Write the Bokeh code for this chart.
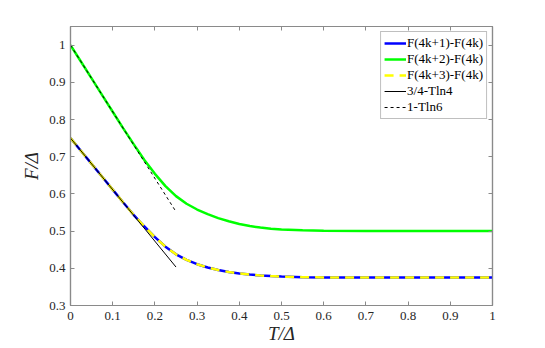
from bokeh.plotting import figure
from bokeh.models import Range1d, FixedTicker, LinearAxis, Legend, LegendItem
from bokeh.embed import file_html
from bokeh.resources import INLINE

# ---- data ----
T = [0.0, 0.025, 0.05, 0.075, 0.1, 0.125, 0.15, 0.175, 0.2, 0.225, 0.25, 0.275,
     0.3, 0.325, 0.35, 0.375, 0.4, 0.425, 0.45, 0.475, 0.5, 0.55, 0.6, 0.7, 0.8, 0.9, 1.0]
F41 = [0.75, 0.7153, 0.6807, 0.646, 0.6114, 0.5767, 0.5431, 0.5124, 0.4837, 0.4581, 0.4375, 0.4225,
       0.411, 0.4021, 0.3953, 0.3900, 0.3862, 0.3832, 0.3808, 0.379, 0.3777, 0.3762, 0.3755, 0.375, 0.375, 0.375, 0.375]
F42 = [1.0, 0.9552, 0.9104, 0.8656, 0.8208, 0.776, 0.733, 0.691, 0.654, 0.621, 0.594, 0.5735,
       0.558, 0.5455, 0.535, 0.5265, 0.519, 0.5135, 0.5095, 0.5065, 0.5045, 0.5025, 0.501, 0.5, 0.5, 0.5, 0.5]
F43 = F41
T_lin = [0.0, 0.25]
lin4 = [0.75, 0.4034]   # 3/4 - T ln4
lin6 = [1.0, 0.5521]    # 1 - T ln6

x_ticks = [0, 0.1, 0.2, 0.3, 0.4, 0.5, 0.6, 0.7, 0.8, 0.9, 1]
x_tick_labels = ["0", "0.1", "0.2", "0.3", "0.4", "0.5", "0.6", "0.7", "0.8", "0.9", "1"]
y_ticks = [0.3, 0.4, 0.5, 0.6, 0.7, 0.8, 0.9, 1]
y_tick_labels = ["0.3", "0.4", "0.5", "0.6", "0.7", "0.8", "0.9", "1"]

labels = ["F(4k+1)-F(4k)", "F(4k+2)-F(4k)", "F(4k+3)-F(4k)", "3/4-Tln4", "1-Tln6"]

FONT = "serif"
AX = "#8a8a8a"
TXT = "#262626"

p = figure(width=537, height=346, output_backend="svg", toolbar_location=None,
           x_range=Range1d(0, 1), y_range=Range1d(0.3, 1.05),
           min_border_left=70, min_border_right=45, min_border_top=26, min_border_bottom=41)
p.background_fill_color = "white"
p.border_fill_color = "white"
p.outline_line_color = AX
p.outline_line_width = 1.2
p.xgrid.visible = False
p.ygrid.visible = False

r1 = p.line(T, F41, color="#0000ff", line_width=2.5)
r2 = p.line(T, F42, color="#00ff00", line_width=2.5)
r3 = p.line(T, F43, color="#ffff00", line_width=2.5, line_dash="9 6")
r4 = p.line(T_lin, lin4, color="black", line_width=1)
r5 = p.line(T_lin, lin6, color="black", line_width=1, line_dash="3 3")

def style_axis(ax, ticks, overrides):
    ax.ticker = FixedTicker(ticks=ticks)
    ax.axis_line_color = AX
    ax.axis_line_width = 1.2
    ax.major_tick_line_color = AX
    ax.major_tick_in = 4
    ax.major_tick_out = 0
    ax.minor_tick_line_color = None
    ax.major_label_text_font = FONT
    ax.major_label_text_color = TXT
    ax.major_label_text_font_size = "13px"
    ax.major_label_overrides = overrides

xa = p.xaxis[0]
ya = p.yaxis[0]
style_axis(xa, x_ticks, dict(zip(x_ticks, x_tick_labels)))
style_axis(ya, y_ticks, dict(zip(y_ticks, y_tick_labels)))
xa.major_label_standoff = 6
ya.major_label_standoff = 5
xa.axis_label = "T/Δ"
ya.axis_label = "F/Δ"
for ax in (xa, ya):
    ax.axis_label_text_font = FONT
    ax.axis_label_text_font_size = "19px"
    ax.axis_label_text_font_style = "italic"
    ax.axis_label_text_color = TXT
xa.axis_label_standoff = 0
ya.axis_label_standoff = 4

top = LinearAxis()
right = LinearAxis()
style_axis(top, x_ticks, {t: "" for t in x_ticks})
style_axis(right, y_ticks, {t: "" for t in y_ticks})
top.major_label_standoff = 0
right.major_label_standoff = 0
p.add_layout(top, "above")
p.add_layout(right, "right")

legend = Legend(items=[LegendItem(label=labels[i], renderers=[r]) for i, r in enumerate([r1, r2, r3, r4, r5])],
                location="top_right")
legend.label_text_font = FONT
legend.label_text_font_size = "13px"
legend.label_text_color = "black"
legend.label_height = 14
legend.glyph_height = 14
legend.glyph_width = 22
legend.label_standoff = 1
legend.spacing = 0
legend.padding = 3
legend.margin = 5
legend.border_line_color = "#7f7f7f"
legend.border_line_width = 1
legend.background_fill_color = "white"
legend.background_fill_alpha = 1
p.add_layout(legend)

open("out.html", "w").write(file_html(p, INLINE))
